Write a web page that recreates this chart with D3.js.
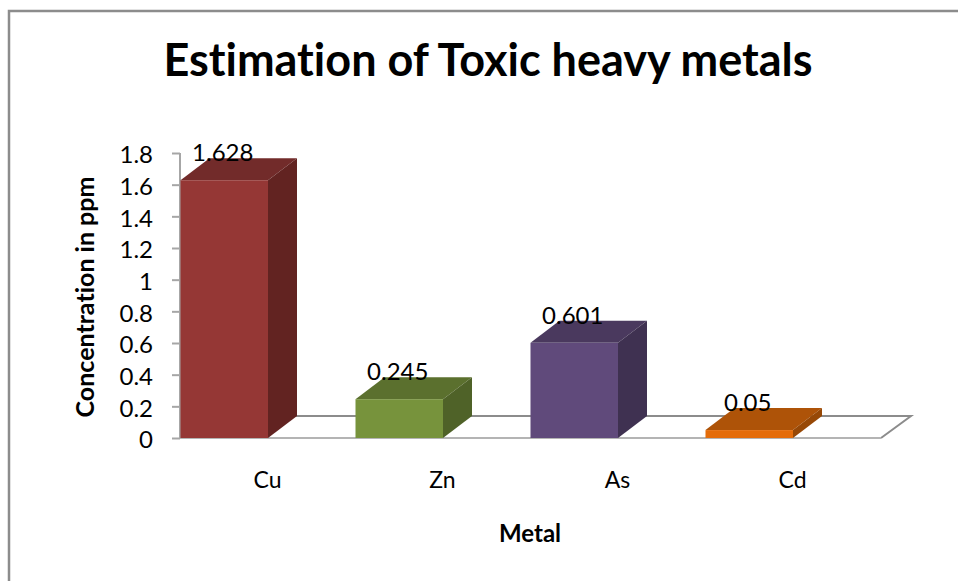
<!DOCTYPE html>
<html>
<head>
<meta charset="utf-8">
<script src="https://cdn.jsdelivr.net/npm/d3@7"></script>
<style>
html,body{margin:0;padding:0;background:#fff;}
text{font-family:Lato,"Open Sans",sans-serif;fill:#000;font-variant-ligatures:none;}
</style>
</head>
<body>
<div id="chart"></div>
<script>
var width = 958,
height = 581,
depthX = 29,
depthY = -22;

// valeurs
var metals = ["Cu","Zn","As","Cd"];
var concentrations = [1.628,0.245,0.601,0.05];
var yTicks = [0,0.2,0.4,0.6,0.8,1,1.2,1.4,1.6,1.8];
var fronts = ["#953735","#77933c","#604a7b","#e46c0a"];
var tops = ["#722b2a","#5b702e","#4a395e","#ae5308"];
var sides = ["#622321","#4f6228","#3f3151","#974806"];

var svg = d3.select("#chart").append("svg")
	.attr("width",width)
	.attr("height",height)
	.style("display","block");

// cadre : seulement le haut et la gauche sont visibles
svg.append("path")
	.attr("d","M"+width+",11H9V"+height)
	.attr("fill","none")
	.attr("stroke","#8c8c8c")
	.attr("stroke-width",2.5);

var y = d3.scaleLinear().domain([0,1.8]).range([438,153]);
var x = d3.scaleBand().domain(metals).range([180.5,793]).paddingInner(0.5).paddingOuter(0);
var xLabels = d3.scalePoint().domain(metals).range([267,792]);

// plancher
var floor = d3.path();
floor.moveTo(881,y(0));
floor.lineTo(911,y(0)+depthY);
floor.lineTo(180+depthX,y(0)+depthY);
svg.append("path")
	.attr("d",floor.toString())
	.attr("fill","none")
	.attr("stroke","#8c8c8c")
	.attr("stroke-width",2);
svg.append("line")
	.attr("x1",180)
	.attr("x2",881)
	.attr("y1",y(0))
	.attr("y2",y(0))
	.attr("stroke","#b4b4b4")
	.attr("stroke-width",2);

// axe vertical
var yAxis = d3.axisLeft(y).tickValues(yTicks).tickFormat(function(d){return d;}).tickSize(8).tickPadding(19);
var gy = svg.append("g").attr("transform","translate(180,0)").call(yAxis);
gy.selectAll("line,path").attr("stroke","#a6a6a6").attr("stroke-width",2);
gy.select("path").attr("d","M0,"+y(1.8)+"V"+y(0));
gy.selectAll("text").style("font-size","24px").attr("fill","#000").attr("y",2);

// barres
var bars = svg.selectAll(".bar").data(metals).enter().append("g").attr("class","bar");

bars.append("path")
	.attr("fill",function(d,i){return tops[i];})
	.attr("d",function(d,i){
		var l = x(d), r = l+x.bandwidth(), t = y(concentrations[i]);
		return "M"+l+","+t+"L"+(l+depthX)+","+(t+depthY)+"L"+(r+depthX)+","+(t+depthY)+"L"+r+","+t+"Z";
	});
bars.append("path")
	.attr("fill",function(d,i){return sides[i];})
	.attr("d",function(d,i){
		var r = x(d)+x.bandwidth(), t = y(concentrations[i]), b = y(0);
		return "M"+r+","+t+"L"+(r+depthX)+","+(t+depthY)+"L"+(r+depthX)+","+(b+depthY)+"L"+r+","+b+"Z";
	});
bars.append("rect")
	.attr("x",function(d){return x(d);})
	.attr("y",function(d,i){return y(concentrations[i]);})
	.attr("width",x.bandwidth())
	.attr("height",function(d,i){return y(0)-y(concentrations[i]);})
	.attr("fill",function(d,i){return fronts[i];});

// etiquettes
bars.append("text")
	.attr("x",function(d){return x(d)+x.bandwidth()/2-1.5;})
	.attr("y",function(d,i){return y(concentrations[i])-19;})
	.attr("text-anchor","middle")
	.style("font-size","24px")
	.text(function(d,i){return concentrations[i];});

// axe horizontal
var xAxis = d3.axisBottom(xLabels).tickSize(0).tickPadding(0);
var gx = svg.append("g").attr("transform","translate(0,472)").call(xAxis);
gx.select("path").remove();
gx.selectAll("text").style("font-size","23px").attr("fill","#000");

svg.append("text")
	.attr("x",488)
	.attr("y",76)
	.attr("text-anchor","middle")
	.style("font-size","45px")
	.style("font-weight","bold")
	.text("Estimation of Toxic heavy metals");

svg.append("text")
	.attr("x",530)
	.attr("y",542)
	.attr("text-anchor","middle")
	.style("font-size","24px")
	.style("font-weight","bold")
	.text("Metal");

svg.append("text")
	.attr("transform","translate(94,297) rotate(-90)")
	.attr("text-anchor","middle")
	.style("font-size","25px")
	.style("font-weight","bold")
	.text("Concentration in ppm");
</script>
</body>
</html>
